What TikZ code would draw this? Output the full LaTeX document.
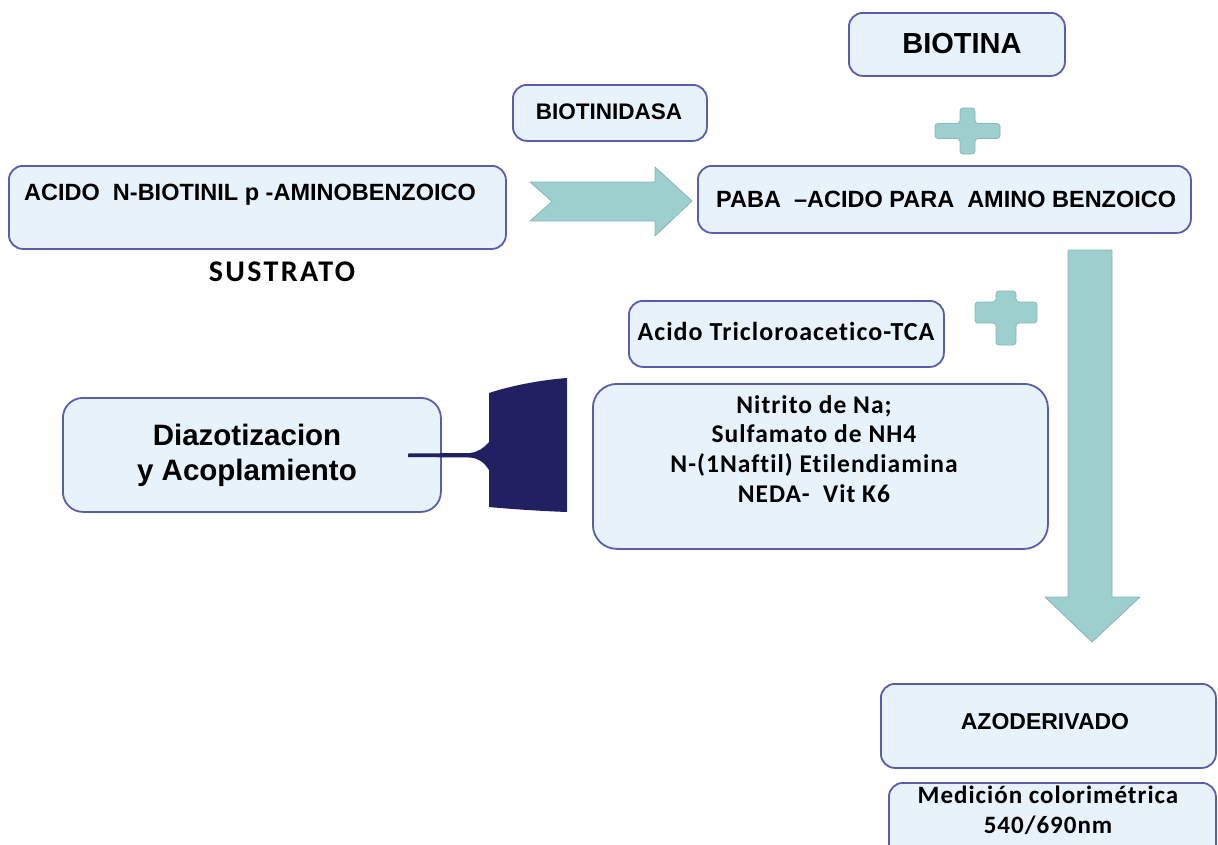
\documentclass[tikz,border=0pt]{standalone}
\usepackage{fontspec}
\newfontfamily\ari{Liberation Sans}
\newfontfamily\calsp{Carlito}[LetterSpace=8]
\newfontfamily\calm{Carlito}[LetterSpace=4,Ligatures=NoCommon]
\definecolor{boxfill}{HTML}{E8F2FB}
\definecolor{boxline}{HTML}{5C5CAE}
\definecolor{tealfill}{HTML}{9DCFCF}
\definecolor{tealline}{HTML}{86B8B8}
\definecolor{navy}{HTML}{202062}
\begin{document}
\begin{tikzpicture}[x=1pt,y=-1pt,
  box/.style={draw=boxline, fill=boxfill, line width=1.8pt, rounded corners=14pt, inner sep=0pt},
  fat/.style={fill=tealfill, draw=tealline, line width=0.8pt, line join=round},
  lbl/.style={inner sep=0pt, align=center, text=black}]
\useasboundingbox (0,0) rectangle (1218,844);
% boxes
\node[box, anchor=north west, minimum width=497pt, minimum height=83pt] (sub) at (8,165) {};
\node[box, anchor=north west, minimum width=194pt, minimum height=56pt] (bdasa) at (512,84) {};
\node[box, anchor=north west, minimum width=216pt, minimum height=63pt] (biot) at (848,12) {};
\node[box, anchor=north west, minimum width=493pt, minimum height=67pt] (paba) at (697,165) {};
\node[box, anchor=north west, minimum width=315pt, minimum height=66pt] (tca) at (628,300) {};
\node[box, anchor=north west, minimum width=455pt, minimum height=165pt, rounded corners=24pt] (nit) at (592,383) {};
\node[box, anchor=north west, minimum width=378pt, minimum height=114pt, rounded corners=20pt] (diaz) at (62,397) {};
\node[box, anchor=north west, minimum width=335pt, minimum height=84pt] (azo) at (880,683) {};
\node[box, anchor=north west, minimum width=327pt, minimum height=80pt] (med) at (888,782) {};
% texts
\node[lbl, anchor=base west, font=\ari\bfseries\fontsize{23.5}{27}\selectfont] (tsub) at (24,200) {ACIDO\ \ N-BIOTINIL p -AMINOBENZOICO};
\node[lbl, anchor=base, font=\calsp\bfseries\fontsize{30}{34}\selectfont] (tsus) at (282,281) {SUSTRATO};
\node[lbl, font=\ari\bfseries\fontsize{22.5}{26}\selectfont] (tbdasa) at (609,112) {BIOTINIDASA};
\node[lbl, font=\ari\bfseries\fontsize{29}{33}\selectfont] (tbiot) at (962,44) {BIOTINA};
\node[lbl, anchor=base west, font=\ari\bfseries\fontsize{23.5}{27}\selectfont] (tpaba) at (716,207) {PABA\ \ –ACIDO PARA\ \ AMINO BENZOICO};
\node[lbl, anchor=base, font=\calm\bfseries\fontsize{26}{30}\selectfont] (ttca) at (786,340) {Acido Tricloroacetico-TCA};
\node[lbl, anchor=base, font=\calm\bfseries\fontsize{25.5}{29.7}\selectfont] (tnit) at (814,413) {\begin{tabular}[t]{@{}c@{}}Nitrito de Na;\\Sulfamato\ de NH4\\N-(1Naftil) Etilendiamina\\NEDA-\ \ Vit K6\end{tabular}};
\node[lbl, anchor=base, font=\ari\bfseries\fontsize{29.5}{35}\selectfont] (tdiaz) at (247,445) {\begin{tabular}[t]{@{}c@{}}Diazotizacion\\y Acoplamiento\end{tabular}};
\node[lbl, font=\ari\bfseries\fontsize{23}{27}\selectfont] (tazo) at (1045,722) {AZODERIVADO};
\node[lbl, anchor=base, font=\calm\bfseries\fontsize{25}{30}\selectfont] (tmed) at (1048,803) {\begin{tabular}[t]{@{}c@{}}Medición colorimétrica\\540/690nm\end{tabular}};
% right notched arrow
\draw[fat] (530,182) -- (655,182) -- (655,167) -- (692,201) -- (655,236) -- (655,221) -- (530,221) -- (552,201.5) -- cycle;
% down arrow
\draw[fat] (1068,250) -- (1112,250) -- (1112,597) -- (1140,597) -- (1092,642) -- (1045,597) -- (1068,597) -- cycle;
% plus signs
\draw[fat, rounded corners=3pt] (960,108) -- (975,108) -- (975,123.5) -- (1000,123.5) -- (1000,138.5) -- (975,138.5) -- (975,154) -- (960,154) -- (960,138.5) -- (935,138.5) -- (935,123.5) -- (960,123.5) -- cycle;
\draw[fat, rounded corners=3pt] (996,291) -- (1016,291) -- (1016,302) -- (1037,302) -- (1037,323) -- (1016,323) -- (1016,345) -- (996,345) -- (996,323) -- (975,323) -- (975,302) -- (996,302) -- cycle;
% dark callout
\fill[navy] (489,393) .. controls (510,386) and (540,380) .. (567,378) -- (567,512) .. controls (540,511) and (510,509) .. (489,507)
  -- (489,470) .. controls (484,462) and (478,458) .. (470,457.5) -- (408,457)
  -- (408,453.5) -- (470,453) .. controls (478,452) and (484,448) .. (489,442) -- cycle;
\end{tikzpicture}
\end{document}
